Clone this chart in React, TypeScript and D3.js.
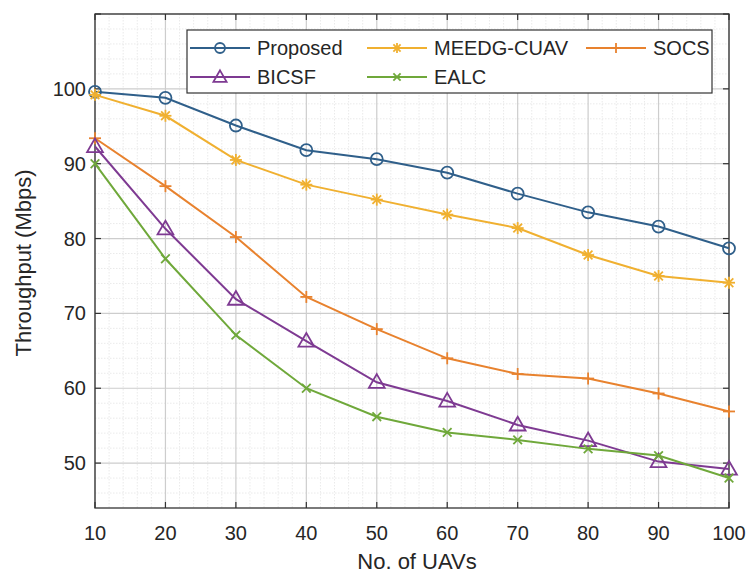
import React from "react";
import * as d3 from "d3";

// UAV counts on the x axis
const uavs = [10, 20, 30, 40, 50, 60, 70, 80, 90, 100];

// throughput (Mbps)
const proposed = [99.6, 98.8, 95.1, 91.8, 90.6, 88.8, 86.0, 83.5, 81.6, 78.7];
const meedg = [99.2, 96.4, 90.5, 87.2, 85.2, 83.2, 81.4, 77.8, 75.0, 74.1];
const socs = [93.4, 87.0, 80.2, 72.2, 67.9, 64.0, 61.9, 61.3, 59.3, 56.9];
const bicsf = [92.3, 81.3, 71.9, 66.3, 60.8, 58.3, 55.1, 53.0, 50.2, 49.2];
const ealc = [90.0, 77.3, 67.1, 60.0, 56.2, 54.1, 53.1, 51.9, 51.0, 48.0];

const xTicks = [10, 20, 30, 40, 50, 60, 70, 80, 90, 100];
const yTicks = [50, 60, 70, 80, 90, 100];

const series = [
  { name: "Proposed", values: proposed, color: "#2f5f8a", marker: "circle" },
  { name: "MEEDG-CUAV", values: meedg, color: "#f0b030", marker: "star" },
  { name: "SOCS", values: socs, color: "#e8822e", marker: "plus" },
  { name: "BICSF", values: bicsf, color: "#7e3a92", marker: "triangle" },
  { name: "EALC", values: ealc, color: "#6fa83a", marker: "cross" },
];

const W = 752, H = 575;
const m = { left: 95, right: 729, top: 14, bottom: 508 };
const font = "'Liberation Sans', Arial, Helvetica, sans-serif";

function Marker({ kind, x, y, color, s = 6 }: { kind: string; x: number; y: number; color: string; s?: number }) {
  if (kind === "circle")
    return <circle cx={x} cy={y} r={s} fill="none" stroke={color} strokeWidth={1.8} />;
  if (kind === "triangle") {
    const p = d3.symbol().type(d3.symbolTriangle).size(3 * s * s)();
    return <path d={p || ""} transform={`translate(${x},${y + 1})`} fill="none" stroke={color} strokeWidth={1.8} />;
  }
  const d = s * 0.72;
  if (kind === "plus")
    return (
      <g stroke={color} strokeWidth={1.8}>
        <line x1={x - s} x2={x + s} y1={y} y2={y} />
        <line x1={x} x2={x} y1={y - s} y2={y + s} />
      </g>
    );
  if (kind === "cross")
    return (
      <g stroke={color} strokeWidth={1.8}>
        <line x1={x - d} x2={x + d} y1={y - d} y2={y + d} />
        <line x1={x - d} x2={x + d} y1={y + d} y2={y - d} />
      </g>
    );
  // star = plus + cross
  return (
    <g stroke={color} strokeWidth={1.8}>
      <line x1={x - s} x2={x + s} y1={y} y2={y} />
      <line x1={x} x2={x} y1={y - s} y2={y + s} />
      <line x1={x - d} x2={x + d} y1={y - d} y2={y + d} />
      <line x1={x - d} x2={x + d} y1={y + d} y2={y - d} />
    </g>
  );
}

export default function App() {
  const x = d3.scaleLinear().domain([10, 100]).range([m.left, m.right]);
  const y = d3.scaleLinear().domain([44, 110]).range([m.bottom, m.top]);
  const line = d3.line<number>().x((_, i) => x(uavs[i])).y((d) => y(d));

  const minorX = d3.range(12, 100, 2).filter((v) => v % 10 !== 0);
  const minorY = d3.range(46, 110, 2).filter((v) => v % 10 !== 0);
  const majorY = d3.range(50, 111, 10);

  const legendPos = [
    { col: 0, row: 0 }, { col: 1, row: 0 }, { col: 2, row: 0 },
    { col: 0, row: 1 }, { col: 1, row: 1 },
  ];
  const colX = [190, 367, 586];
  const rowY = [48, 77];

  return (
    <svg width={W} height={H} style={{ position: "absolute", left: 0, top: 0 }}>
      <rect width={W} height={H} fill="#fff" />
      {/* minor grid */}
      <g stroke="#e4e4e4" strokeWidth={0.8} strokeDasharray="1.5,1.5">
        {minorX.map((v) => (
          <line key={"mx" + v} x1={x(v)} x2={x(v)} y1={m.top} y2={m.bottom} />
        ))}
        {minorY.map((v) => (
          <line key={"my" + v} x1={m.left} x2={m.right} y1={y(v)} y2={y(v)} />
        ))}
      </g>
      {/* major grid */}
      <g stroke="#cdcdcd" strokeWidth={1.2}>
        {xTicks.map((v) => (
          <line key={"gx" + v} x1={x(v)} x2={x(v)} y1={m.top} y2={m.bottom} />
        ))}
        {majorY.map((v) => (
          <line key={"gy" + v} x1={m.left} x2={m.right} y1={y(v)} y2={y(v)} />
        ))}
      </g>
      {/* box */}
      <rect x={m.left} y={m.top} width={m.right - m.left} height={m.bottom - m.top} fill="none" stroke="#333" strokeWidth={1.3} />
      {/* ticks */}
      <g stroke="#333" strokeWidth={1.2}>
        {xTicks.map((v) => (
          <g key={"tx" + v}>
            <line x1={x(v)} x2={x(v)} y1={m.bottom} y2={m.bottom - 6} />
            <line x1={x(v)} x2={x(v)} y1={m.top} y2={m.top + 6} />
          </g>
        ))}
        {majorY.map((v) => (
          <g key={"ty" + v}>
            <line x1={m.left} x2={m.left + 6} y1={y(v)} y2={y(v)} />
            <line x1={m.right} x2={m.right - 6} y1={y(v)} y2={y(v)} />
          </g>
        ))}
      </g>
      {/* tick labels */}
      <g fontFamily={font} fontSize={20} fill="#262626">
        {xTicks.map((v) => (
          <text key={"lx" + v} x={x(v)} y={540} textAnchor="middle">{v}</text>
        ))}
        {yTicks.map((v) => (
          <text key={"ly" + v} x={m.left - 9} y={y(v) + 7} textAnchor="end">{v}</text>
        ))}
      </g>
      <text x={(m.left + m.right) / 2 + 5} y={569} textAnchor="middle" fontFamily={font} fontSize={22} fill="#262626">
        No. of UAVs
      </text>
      <text transform={`translate(31,${(m.top + m.bottom) / 2 + 2}) rotate(-90)`} textAnchor="middle" fontFamily={font} fontSize={22} fill="#262626">
        Throughput (Mbps)
      </text>
      {/* series */}
      {series.map((s) => (
        <g key={s.name}>
          <path d={line(s.values) || ""} fill="none" stroke={s.color} strokeWidth={2} />
          {s.values.map((v, i) => (
            <Marker key={i} kind={s.marker} x={x(uavs[i])} y={y(v)} color={s.color} />
          ))}
        </g>
      ))}
      {/* legend */}
      <rect x={187} y={30} width={525} height={63} fill="#fff" stroke="#333" strokeWidth={1.2} />
      {series.map((s, i) => {
        const lx = colX[legendPos[i].col];
        const ly = rowY[legendPos[i].row];
        return (
          <g key={"lg" + s.name}>
            <line x1={lx} x2={lx + 60} y1={ly} y2={ly} stroke={s.color} strokeWidth={2} />
            <Marker kind={s.marker} x={lx + 30} y={ly} color={s.color} s={5} />
            <text x={lx + 67} y={ly + 7} fontFamily={font} fontSize={20} fill="#262626">{s.name}</text>
          </g>
        );
      })}
    </svg>
  );
}
